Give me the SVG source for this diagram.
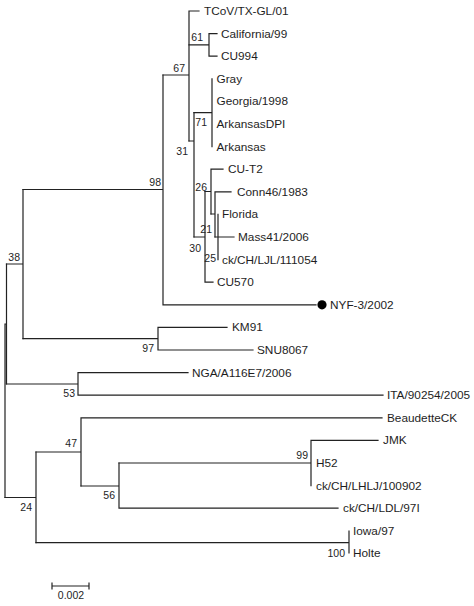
<svg xmlns="http://www.w3.org/2000/svg" width="474" height="606" viewBox="0 0 474 606">
<style>
.e{stroke:#222;stroke-width:1.2;fill:none;stroke-linecap:square}
.t{font-family:"Liberation Sans",Arial,sans-serif;font-size:11.8px;fill:#1e1e1e}
.b{font-family:"Liberation Sans",Arial,sans-serif;font-size:10.5px;fill:#1e1e1e;text-anchor:end}
</style>
<rect width="474" height="606" fill="#fff"/>
<g id="connectors">
<path class="e" d="M5,324 H6.5 M6.5,264 V384 M5,324 V497.5"/>
<path class="e" d="M6.5,264 H23 M23,189.5 V338.7"/>
<path class="e" d="M23,189.5 H163 M163,75 V304.8 M163,304.8 H316"/>
<path class="e" d="M163,75 H189 M189,11 V141 M189,11 H199"/>
<path class="e" d="M189,44.9 H209 M209,33.6 V56.2 M209,33.6 H217 M209,56.2 H217"/>
<path class="e" d="M189,141 H194 M194,112.7 V237"/>
<path class="e" d="M194,112.7 H212 M212,78.8 V146.6"/>
<path class="e" d="M194,237 H205 M205,191.5 V282.2 M205,282.2 H213"/>
<path class="e" d="M205,191.5 H211 M211,169.2 V214 M211,169.2 H223"/>
<path class="e" d="M211,214 H215 M215,191.8 V237 M215,191.8 H231"/>
<path class="e" d="M215,237 H218 M218,214.4 V259.6 M218,237 H234"/>
<path class="e" d="M23,338.7 H158 M158,327.4 V350 M158,327.4 H227 M158,350 H253"/>
<path class="e" d="M6.5,384 H78 M78,372.6 V395.2 M78,372.6 H188 M78,395.2 H383"/>
<path class="e" d="M5,497.5 H36 M36,452 V542.7"/>
<path class="e" d="M36,452 H81 M81,417.8 V486 M81,417.8 H382"/>
<path class="e" d="M81,486 H119 M119,463 V508.2 M119,508.2 H338"/>
<path class="e" d="M119,463 H311 M311,440.4 V485.6 M311,440.4 H378"/>
<path class="e" d="M36,542.7 H349 M349,531 V553"/>
</g>
<g id="n-tcov"><text class="t" x="204" y="15">TCoV/TX-GL/01</text></g>
<g id="n-california"><text class="t" x="221" y="37.6">California/99</text></g>
<g id="n-cu994"><text class="t" x="221" y="60.2">CU994</text></g>
<g id="n-gray"><text class="t" x="216.5" y="82.8">Gray</text></g>
<g id="n-georgia"><text class="t" x="216.5" y="105.4">Georgia/1998</text></g>
<g id="n-arkdpi"><text class="t" x="216.5" y="128">ArkansasDPI</text></g>
<g id="n-ark"><text class="t" x="216.5" y="150.6">Arkansas</text></g>
<g id="n-cut2"><text class="t" x="228" y="173.2">CU-T2</text></g>
<g id="n-conn46"><text class="t" x="237" y="195.8">Conn46/1983</text></g>
<g id="n-florida"><text class="t" x="222" y="218.4">Florida</text></g>
<g id="n-mass41"><text class="t" x="238" y="241">Mass41/2006</text></g>
<g id="n-ljl"><text class="t" x="222" y="263.6">ck/CH/LJL/111054</text></g>
<g id="n-cu570"><text class="t" x="217" y="286.2">CU570</text></g>
<g id="n-nyf"><circle cx="322" cy="304.8" r="4.6" fill="#000"/><text class="t" x="330" y="308.8">NYF-3/2002</text></g>
<g id="n-km91"><text class="t" x="232" y="331.4">KM91</text></g>
<g id="n-snu"><text class="t" x="257" y="354">SNU8067</text></g>
<g id="n-nga"><text class="t" x="192" y="376.6">NGA/A116E7/2006</text></g>
<g id="n-ita"><text class="t" x="387" y="399.2">ITA/90254/2005</text></g>
<g id="n-beaudette"><text class="t" x="387" y="421.8">BeaudetteCK</text></g>
<g id="n-jmk"><text class="t" x="383" y="444.4">JMK</text></g>
<g id="n-h52"><text class="t" x="316" y="467">H52</text></g>
<g id="n-lhlj"><text class="t" x="316" y="489.6">ck/CH/LHLJ/100902</text></g>
<g id="n-ldl"><text class="t" x="343" y="512.2">ck/CH/LDL/97I</text></g>
<g id="n-iowa"><text class="t" x="353" y="534.8">Iowa/97</text></g>
<g id="n-holte"><text class="t" x="353" y="557.4">Holte</text></g>
<g id="bootstrap">
<text class="b" x="185" y="72">67</text>
<text class="b" x="203" y="41">61</text>
<text class="b" x="207" y="126">71</text>
<text class="b" x="188" y="155">31</text>
<text class="b" x="161" y="186">98</text>
<text class="b" x="207" y="191">26</text>
<text class="b" x="212" y="233">21</text>
<text class="b" x="201" y="252">30</text>
<text class="b" x="216" y="262">25</text>
<text class="b" x="20" y="261">38</text>
<text class="b" x="154" y="352">97</text>
<text class="b" x="75" y="397">53</text>
<text class="b" x="77" y="447">47</text>
<text class="b" x="32" y="511">24</text>
<text class="b" x="115" y="499">56</text>
<text class="b" x="308" y="459">99</text>
<text class="b" x="345" y="557">100</text>
</g>
<g id="scale">
<path class="e" d="M52,586 H89 M52,583 V589 M89,583 V589"/>
<text class="b" x="71" y="599" style="text-anchor:middle">0.002</text>
</g>
</svg>
